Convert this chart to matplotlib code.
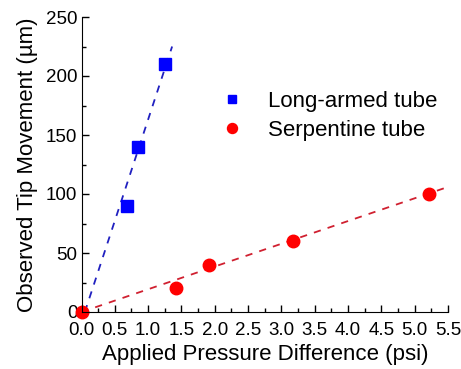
import matplotlib
matplotlib.use("Agg")
import matplotlib.pyplot as plt
from matplotlib.ticker import MultipleLocator
import numpy as np

plt.rcParams['font.family'] = ['Liberation Sans', 'DejaVu Sans']

long_x = [0.68, 0.85, 1.25]
long_y = [90, 140, 210]
serp_x = [0.0, 1.42, 1.92, 3.17, 5.22]
serp_y = [0, 20, 40, 60, 100]
long_fit_x = [0.05, 1.36]
long_fit_y = [0, 225]
serp_fit_x = [0.0, 5.5]
serp_fit_y = [0, 106]

fig = plt.figure(figsize=(4.61, 3.69), dpi=100)
ax = fig.add_axes([81.5/461, 1 - 312/369, (448 - 81.5)/461, (312 - 17)/369])

ax.plot(long_fit_x, long_fit_y, color='#2020c0', ls=(0, (4, 4)), lw=1.3)
ax.plot(serp_fit_x, serp_fit_y, color='#d02030', ls=(0, (4, 4)), lw=1.3)
ax.plot(long_x, long_y, 's', color='#0000ff', ms=8, label='Long-armed tube', clip_on=False)
ax.plot(serp_x, serp_y, 'o', color='#ff0000', ms=9, label='Serpentine tube', clip_on=False)

ax.set_xlim(0, 5.5)
ax.set_ylim(0, 250)
ax.xaxis.set_major_locator(MultipleLocator(0.5))
ax.xaxis.set_minor_locator(MultipleLocator(0.25))
ax.yaxis.set_major_locator(MultipleLocator(50))
ax.yaxis.set_minor_locator(MultipleLocator(25))
ax.xaxis.set_major_formatter(matplotlib.ticker.FormatStrFormatter('%.1f'))
ax.spines['top'].set_visible(False)
ax.spines['right'].set_visible(False)
ax.tick_params(which='both', direction='in', labelsize=13.5, width=1)
ax.tick_params(which='major', length=5, pad=3)
ax.tick_params(axis='x', which='major', pad=7)
ax.tick_params(which='minor', length=3)
ax.set_xlabel('Applied Pressure Difference (psi)', fontsize=16, labelpad=4)
ax.set_ylabel('Observed Tip Movement (µm)', fontsize=16, labelpad=6)

ax.legend(loc='center left', bbox_to_anchor=(0.32, 0.665), frameon=False, fontsize=16,
          handletextpad=1.0, labelspacing=0.35, handlelength=1.2, markerscale=0.8)

fig.savefig('out.png', dpi=100)
